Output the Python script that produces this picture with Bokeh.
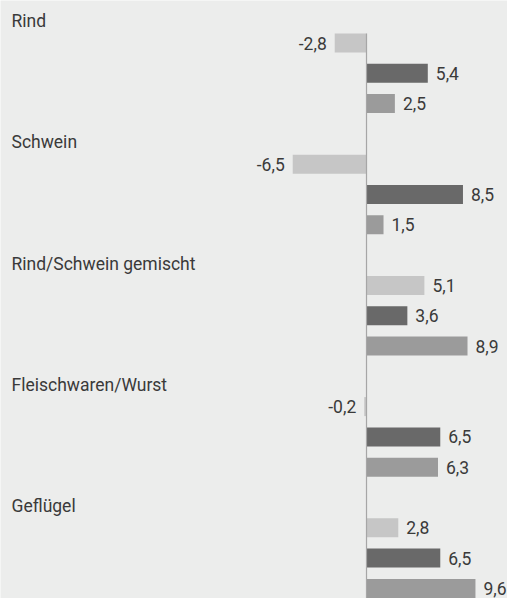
from bokeh.plotting import figure
from bokeh.models import Range1d, ColumnDataSource
from bokeh.core.properties import value
from bokeh.embed import file_html
from bokeh.resources import INLINE

# ---- data ----
categories = ["Rind", "Schwein", "Rind/Schwein gemischt", "Fleischwaren/Wurst", "Geflügel"]
series_a = [-2.8, -6.5, 5.1, -0.2, 2.8]
series_b = [5.4, 8.5, 3.6, 6.5, 6.5]
series_c = [2.5, 1.5, 8.9, 6.3, 9.6]
series_colors = ["#C6C6C6", "#696969", "#9B9B9B"]

BG = "#ECEDEC"
FONT = "Roboto"
TXT = "#3A3A3A"
W, H = 507, 598
PX_PER_UNIT = 11.35
ZERO_PX = 366.0
PITCH = 30.3
FIRST_CENTER_PX = 42.5
BAR_H = 19.0 / PITCH

x_start = -ZERO_PX / PX_PER_UNIT
x_end = x_start + W / PX_PER_UNIT
k_top = 1 - FIRST_CENTER_PX / PITCH
k_bottom = k_top + H / PITCH

rows = dict(k=[], v=[], color=[], label=[])
for g, cat in enumerate(categories):
    for j, series in enumerate([series_a, series_b, series_c]):
        v = series[g]
        rows["k"].append(4 * g + 1 + j)
        rows["v"].append(v)
        rows["color"].append(series_colors[j])
        rows["label"].append(f"{v:.1f}".replace(".", ","))

pos = {key: [rows[key][i] for i in range(len(rows["v"])) if rows["v"][i] >= 0] for key in rows}
neg = {key: [rows[key][i] for i in range(len(rows["v"])) if rows["v"][i] < 0] for key in rows}

p = figure(width=W, height=H, output_backend="svg", toolbar_location=None,
           x_range=Range1d(x_start, x_end), y_range=Range1d(k_bottom, k_top),
           min_border=0, background_fill_color=BG, border_fill_color=BG)
p.axis.visible = False
p.grid.visible = False
p.outline_line_color = None

src = ColumnDataSource(rows)
p.hbar(y="k", left=0, right="v", height=BAR_H, fill_color="color", line_color=None, source=src)

# zero line
p.segment(x0=[0], y0=[1 - BAR_H / 2], x1=[0], y1=[k_bottom + 1], line_color="#A6A6A6", line_width=1.2)

# value labels
p.text(x="v", y="k", text="label", source=ColumnDataSource(pos), x_offset=8,
       text_align="left", text_baseline="middle", text_font=value(FONT),
       text_font_size="17.5px", text_color=TXT)
p.text(x="v", y="k", text="label", source=ColumnDataSource(neg), x_offset=-8,
       text_align="right", text_baseline="middle", text_font=value(FONT),
       text_font_size="17.5px", text_color=TXT)

# category labels
label_x = x_start + 11 / PX_PER_UNIT
p.text(x=[label_x] * len(categories), y=[4 * g + 1 - 0.72 for g in range(len(categories))],
       text=categories, text_align="left", text_baseline="alphabetic",
       text_font=value(FONT), text_font_size="17.5px", text_color=TXT)

open("out.html", "w").write(file_html(p, INLINE))
